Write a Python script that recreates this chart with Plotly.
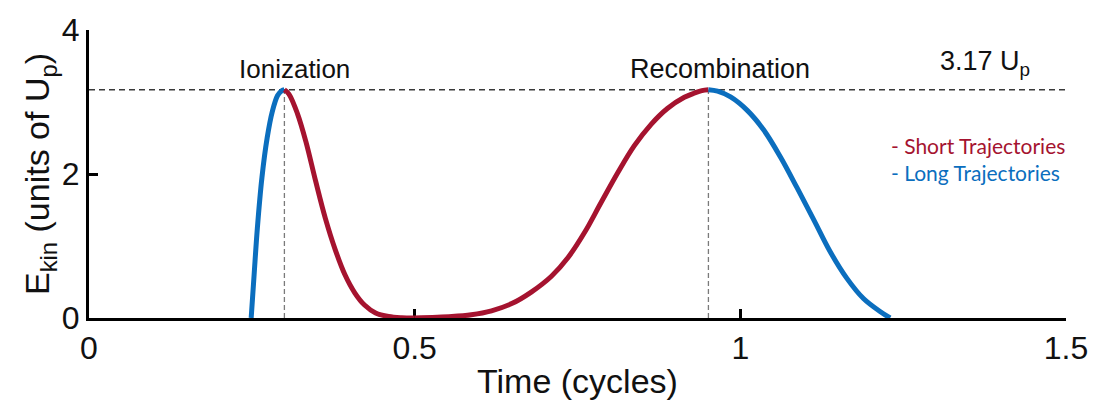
import plotly.graph_objects as go

# Kinetic energy (units of Up) versus time (cycles), classical three-step model
E_MAX = 3.17
t_ion_peak = 0.30
t_rec_peak = 0.951

# Ionization: long trajectories (rising branch) and short trajectories (falling branch)
ion_long_t = [0.249, 0.2535, 0.2585, 0.2655, 0.2735, 0.2815, 0.2895, 0.295, 0.30]
ion_long_e = [0.0, 0.60, 1.25, 1.95, 2.50, 2.87, 3.09, 3.15, 3.17]

ion_short_t = [0.30, 0.307, 0.320, 0.333, 0.348, 0.363, 0.378, 0.393, 0.408, 0.423,
               0.440, 0.460, 0.480, 0.50]
ion_short_e = [3.17, 3.11, 2.84, 2.45, 1.90, 1.38, 0.95, 0.60, 0.35, 0.18,
               0.07, 0.02, 0.003, 0.0]

# Recombination: short trajectories (rising branch) and long trajectories (falling branch)
rec_short_t = [0.50, 0.557, 0.587, 0.618, 0.649, 0.679, 0.710, 0.7355, 0.761, 0.786,
               0.812, 0.837, 0.863, 0.888, 0.914, 0.930, 0.941, 0.951]
rec_short_e = [0.0, 0.02, 0.045, 0.10, 0.20, 0.36, 0.58, 0.84, 1.19, 1.60,
               2.02, 2.39, 2.69, 2.91, 3.065, 3.125, 3.158, 3.17]

rec_long_t = [0.951, 0.965, 0.985, 1.011, 1.036, 1.062, 1.087, 1.113, 1.138, 1.1636,
              1.189, 1.2145, 1.23]
rec_long_e = [3.17, 3.15, 3.07, 2.88, 2.61, 2.23, 1.81, 1.36, 0.92, 0.55,
              0.27, 0.09, 0.0]

x_ticks = [0, 0.5, 1, 1.5]
x_tick_text = ["0", "0.5", "1", "1.5"]
y_ticks = [0, 2, 4]
y_tick_text = ["0", "2", "4"]

RED = "#A5132F"
BLUE = "#0B6EBE"
AXIS_FONT = "Liberation Sans, Arial, sans-serif"
LEGEND_FONT = "Lato, Carlito, Calibri, sans-serif"

fig = go.Figure()

# Reference lines: maximum return energy and the two peak times
fig.add_trace(go.Scatter(
    x=[0, 1.5], y=[E_MAX, E_MAX], mode="lines",
    line=dict(color="#3a3a3a", width=1.5, dash="6px,4px"),
    hoverinfo="skip", showlegend=False))
for tp in (t_ion_peak, t_rec_peak):
    fig.add_trace(go.Scatter(
        x=[tp, tp], y=[0, E_MAX], mode="lines",
        line=dict(color="#7a7a7a", width=1.3, dash="5px,3px"),
        hoverinfo="skip", showlegend=False))

curves = [
    (ion_long_t, ion_long_e, BLUE),
    (ion_short_t, ion_short_e, RED),
    (rec_short_t, rec_short_e, RED),
    (rec_long_t, rec_long_e, BLUE),
]
for t, e, c in curves:
    fig.add_trace(go.Scatter(
        x=t, y=e, mode="lines",
        line=dict(color=c, width=5, shape="spline", smoothing=1.0),
        showlegend=False))

annotations = [
    dict(x=t_ion_peak + 0.015, y=3.46, text="Ionization", font=dict(size=26)),
    dict(x=t_rec_peak + 0.018, y=3.46, text="Recombination", font=dict(size=27)),
    dict(x=1.375, y=3.54, text="3.17 U<sub>p</sub>", font=dict(size=27)),
]
for a in annotations:
    fig.add_annotation(xref="x", yref="y", showarrow=False,
                       font_family=AXIS_FONT, font_color="#111111", **a)

fig.add_annotation(x=1.229, y=2.39, xref="x", yref="y", xanchor="left", showarrow=False,
                   text="- Short Trajectories",
                   font=dict(family=LEGEND_FONT, size=21, color=RED))
fig.add_annotation(x=1.229, y=2.02, xref="x", yref="y", xanchor="left", showarrow=False,
                   text="- Long Trajectories",
                   font=dict(family=LEGEND_FONT, size=21, color=BLUE))

axis_common = dict(
    showline=True, linecolor="black", linewidth=3,
    ticks="inside", ticklen=9, tickwidth=3, tickcolor="black",
    showgrid=False, zeroline=False, layer="below traces",
    tickfont=dict(family=AXIS_FONT, size=32, color="#111111"),
)

fig.update_xaxes(
    range=[0, 1.5], tickvals=x_ticks, ticktext=x_tick_text,
    title=dict(text="Time (cycles)", font=dict(family=AXIS_FONT, size=34, color="#111111"),
               standoff=4),
    **axis_common)
fig.update_yaxes(
    range=[0, 4], tickvals=y_ticks, ticktext=y_tick_text,
    title=dict(text="E<sub>kin</sub> (units of U<sub>p</sub>)",
               font=dict(family=AXIS_FONT, size=34, color="#111111"), standoff=2),
    **axis_common)

fig.update_layout(
    width=1100, height=406,
    margin=dict(l=89, r=30, t=29, b=86),
    plot_bgcolor="white", paper_bgcolor="white",
)

fig.write_html("out.html")
